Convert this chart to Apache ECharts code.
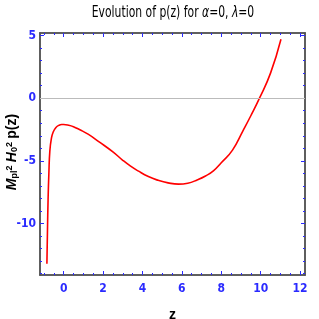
<!DOCTYPE html>
<html><head><meta charset="utf-8">
<script src="https://cdn.jsdelivr.net/npm/echarts@6/dist/echarts.min.js"></script>
<style>html,body{margin:0;padding:0;background:#fff}#c{width:319px;height:319px}</style>
</head><body><div id="c"></div>
<script>
const zValues = [-0.85,-0.82,-0.79,-0.75,-0.70,-0.62,-0.53,-0.4,-0.25,-0.1,0,0.25,0.5,0.8,1.24,1.8,2.5,3.0,3.38,3.78,4.3,4.8,5.3,5.83,6.3,6.8,7.2,7.6,8.0,8.57,9.1,9.5,9.94,10.5,11.03];
const pValues = [-13.2,-10.5,-8.1,-6.0,-4.2,-3.2,-2.7,-2.35,-2.17,-2.1,-2.1,-2.15,-2.27,-2.5,-2.87,-3.48,-4.28,-4.95,-5.4,-5.8,-6.25,-6.55,-6.75,-6.85,-6.78,-6.5,-6.2,-5.8,-5.15,-4.14,-2.6,-1.4,0,2.0,4.7];
const xMajorTicks = [0,2,4,6,8,10,12];
const xMinorTicks = [-1,-0.5,0,0.5,1,1.5,2,2.5,3,3.5,4,4.5,5,5.5,6,6.5,7,7.5,8,8.5,9,9.5,10,10.5,11,11.5,12];
const yMajorTicks = [-10,-5,0,5];
const yMinorTicks = [-14,-13,-12,-11,-10,-9,-8,-7,-6,-5,-4,-3,-2,-1,0,1,2,3,4,5];
const titleText = 'Evolution of p(z) for {i|α}=0, {i|λ}=0';
const yName = '{m|M}{s|pl}{u|2} {m|H}{s|0}{u|2} {n|p(z)}';
const xName = 'z';

const FONT = "'Liberation Sans Narrow','DejaVu Sans Condensed',sans-serif";
const XMIN=-1.2, XMAX=12.25, YMIN=-14.1, YMAX=5.2;
const blue='#2a2aff', frame='#555';
function xAx(pos, ticks, len, labels){
  return {type:'value', position:pos, min:XMIN, max:XMAX,
    axisLine:{show:true,onZero:false,lineStyle:{color:frame,width:1.5}},
    splitLine:{show:false},
    axisTick:{show:true,inside:true,length:len,customValues:ticks,lineStyle:{color:blue}},
    axisLabel:{show:labels,customValues:xMajorTicks,color:blue,fontWeight:'bold',fontSize:12,fontFamily:FONT,margin:8}};
}
function yAx(pos, ticks, len, labels){
  return {type:'value', position:pos, min:YMIN, max:YMAX,
    axisLine:{show:true,onZero:false,lineStyle:{color:frame,width:1.5}},
    splitLine:{show:false},
    axisTick:{show:true,inside:true,length:len,customValues:ticks,lineStyle:{color:blue}},
    axisLabel:{show:labels,customValues:yMajorTicks,color:blue,fontWeight:'bold',fontSize:12,fontFamily:FONT,margin:4}};
}
const xs=[xAx('bottom',xMajorTicks,4,true),xAx('bottom',xMinorTicks,2,false),xAx('top',xMajorTicks,4,false),xAx('top',xMinorTicks,2,false)];
xs[0].name=xName; xs[0].nameLocation='middle'; xs[0].nameGap=33;
xs[0].nameTextStyle={color:'#000',fontWeight:'bold',fontSize:14,fontFamily:'Liberation Sans, sans-serif'};
const ys=[yAx('left',yMajorTicks,4,true),yAx('left',yMinorTicks,2,false),yAx('right',yMajorTicks,4,false),yAx('right',yMinorTicks,2,false)];
const option={
  animation:false,
  graphic:[{type:'text',x:173,y:13,scaleX:0.8,
    style:{text:titleText,align:'center',verticalAlign:'middle',fill:'#000',
      fontSize:15,fontFamily:FONT,
      rich:{i:{fontSize:15,fontStyle:'italic',fill:'#000',fontFamily:FONT}}}},
    {type:'text',x:12,y:152,rotation:Math.PI/2,
    style:{text:yName,align:'center',verticalAlign:'middle',fill:'#000',fontWeight:'bold',fontFamily:'Liberation Sans, sans-serif',
      rich:{m:{fontSize:14,fontStyle:'italic',fontWeight:'bold',fill:'#000',verticalAlign:'middle'},
        s:{fontSize:9,fontWeight:'bold',fill:'#000',verticalAlign:'bottom'},
        u:{fontSize:9,fontWeight:'bold',fill:'#000',verticalAlign:'top'},
        n:{fontSize:14,fontWeight:'bold',fill:'#000',verticalAlign:'middle'}}}}],
  grid:{left:40,right:14,top:33,bottom:44,outerBoundsMode:'none'},
  xAxis:xs, yAxis:ys,
  series:[{type:'line',xAxisIndex:0,yAxisIndex:0,data:zValues.map((z,i)=>[z,pValues[i]]),
    showSymbol:false,smooth:true,lineStyle:{color:'#ff0000',width:1.6},
    markLine:{silent:true,symbol:'none',label:{show:false},lineStyle:{color:'#bbb',type:'solid',width:1},data:[{yAxis:0}]},
    z:3}]
};
echarts.init(document.getElementById('c')).setOption(option);
</script></body></html>
